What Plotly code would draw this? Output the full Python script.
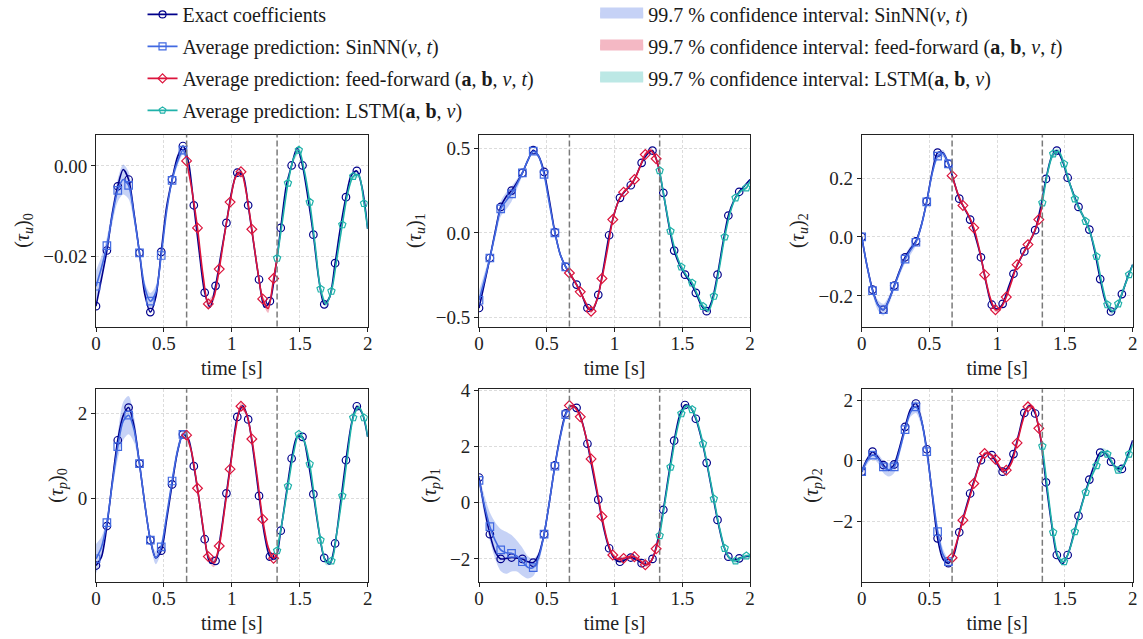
import plotly.graph_objects as go

# ---------------- data ----------------
T_EXACT = [0.00, 0.04, 0.08, 0.12, 0.16, 0.20, 0.24, 0.28, 0.32, 0.36, 0.40, 0.44, 0.48, 0.52, 0.56, 0.60,
           0.64, 0.68, 0.72, 0.76, 0.80, 0.84, 0.88, 0.92, 0.96, 1.00, 1.04, 1.08, 1.12, 1.16, 1.20, 1.24,
           1.28, 1.32, 1.36, 1.40, 1.44, 1.48, 1.52, 1.56, 1.60, 1.64, 1.68, 1.72, 1.76, 1.80, 1.84, 1.88,
           1.92, 1.96, 2.00]
T_SIN = [0.00, 0.04, 0.08, 0.12, 0.16, 0.20, 0.24, 0.28, 0.32, 0.36, 0.40, 0.44, 0.48, 0.52, 0.56, 0.60, 0.64, 0.667]
T_FF = [0.667, 0.707, 0.747, 0.787, 0.827, 0.867, 0.907, 0.947, 0.987, 1.027, 1.067, 1.107, 1.147, 1.187,
        1.227, 1.267, 1.307, 1.333]
T_LSTM = [1.333, 1.373, 1.413, 1.453, 1.493, 1.533, 1.573, 1.613, 1.653, 1.693, 1.733, 1.773, 1.813, 1.853,
          1.893, 1.933, 1.973, 2.000]
SEGMENT_BOUNDS = [0.667, 1.333]

# (tau_u)_0
EXACT_TU0 = [-0.0310, -0.0250, -0.0187, -0.0105, -0.0045, -0.0008, -0.0030, -0.0105, -0.0192, -0.0285, -0.0323,
             -0.0290, -0.0190, -0.0090, -0.0030, 0.0020, 0.0044, 0.0010, -0.0087, -0.0190, -0.0280, -0.0312,
             -0.0265, -0.0195, -0.0126, -0.0055, -0.0015, -0.0020, -0.0087, -0.0170, -0.0251, -0.0312, -0.0299,
             -0.0230, -0.0137, -0.0045, 0.0001, 0.0040, 0.0001, -0.0070, -0.0152, -0.0250, -0.0306, -0.0290,
             -0.0215, -0.0135, -0.0069, -0.0020, -0.0011, -0.0050, -0.0139]
SIN_TU0 = [-0.0266, -0.0225, -0.0176, -0.0110, -0.0054, -0.0030, -0.0043, -0.0110, -0.0192, -0.0270, -0.0299,
           -0.0280, -0.0198, -0.0100, -0.0032, 0.0010, 0.0035, 0.0015]
SIN_TU0_W = [0.0035, 0.0025, 0.0018, 0.0018, 0.0025, 0.0033, 0.0030, 0.0015, 0.0010, 0.0012, 0.0018, 0.0015,
             0.0010, 0.0008, 0.0008, 0.0010, 0.0010, 0.0008]
FF_TU0 = [0.0011, -0.0055, -0.0137, -0.0240, -0.0305, -0.0290, -0.0228, -0.0150, -0.0080, -0.0025, -0.0013,
          -0.0060, -0.0140, -0.0225, -0.0294, -0.0315, -0.0249, -0.0205]
FF_TU0_W = [0.0006, 0.0006, 0.0006, 0.0008, 0.0010, 0.0009, 0.0006, 0.0005, 0.0005, 0.0005, 0.0006, 0.0005,
            0.0005, 0.0006, 0.0008, 0.0010, 0.0007, 0.0006]
LSTM_TU0 = [-0.0204, -0.0120, -0.0038, 0.0015, 0.0035, -0.0010, -0.0080, -0.0175, -0.0272, -0.0305, -0.0277,
            -0.0205, -0.0130, -0.0060, -0.0023, -0.0020, -0.0083, -0.0139]
LSTM_TU0_W = [0.0005, 0.0005, 0.0006, 0.0007, 0.0008, 0.0006, 0.0005, 0.0005, 0.0006, 0.0007, 0.0006, 0.0005,
              0.0005, 0.0005, 0.0006, 0.0007, 0.0006, 0.0005]

# (tau_u)_1
EXACT_TU1 = [-0.446, -0.300, -0.149, 0.010, 0.154, 0.215, 0.251, 0.300, 0.356, 0.430, 0.491, 0.455, 0.362, 0.190,
             0.004, -0.130, -0.202, -0.255, -0.307, -0.370, -0.446, -0.455, -0.368, -0.200, -0.014, 0.120, 0.208,
             0.250, 0.283, 0.340, 0.416, 0.465, 0.489, 0.405, 0.238, 0.050, -0.105, -0.190, -0.248, -0.295, -0.356,
             -0.430, -0.465, -0.400, -0.248, -0.060, 0.103, 0.190, 0.244, 0.280, 0.317]
SIN_TU1 = [-0.400, -0.280, -0.149, 0.000, 0.143, 0.190, 0.232, 0.290, 0.356, 0.430, 0.485, 0.455, 0.347, 0.170,
           0.000, -0.130, -0.202, -0.235]
SIN_TU1_W = [0.060, 0.040, 0.020, 0.030, 0.045, 0.050, 0.045, 0.030, 0.015, 0.012, 0.012, 0.012, 0.012, 0.010,
             0.010, 0.010, 0.010, 0.010]
FF_TU1 = [-0.238, -0.290, -0.350, -0.415, -0.465, -0.405, -0.271, -0.100, 0.079, 0.185, 0.242, 0.275, 0.317,
          0.390, 0.465, 0.490, 0.440, 0.365]
FF_TU1_W = [0.010, 0.010, 0.010, 0.012, 0.014, 0.012, 0.010, 0.010, 0.010, 0.010, 0.010, 0.010, 0.010, 0.012,
            0.014, 0.014, 0.012, 0.010]
LSTM_TU1 = [0.370, 0.180, 0.010, -0.120, -0.202, -0.255, -0.297, -0.370, -0.436, -0.462, -0.376, -0.210, -0.024,
            0.120, 0.208, 0.250, 0.267, 0.310]
LSTM_TU1_W = [0.010, 0.010, 0.010, 0.010, 0.010, 0.010, 0.010, 0.012, 0.014, 0.014, 0.012, 0.010, 0.010, 0.010,
              0.010, 0.010, 0.010, 0.010]

# (tau_u)_2
EXACT_TU2 = [0.000, -0.100, -0.179, -0.230, -0.247, -0.215, -0.165, -0.115, -0.069, -0.040, -0.015, 0.040, 0.121,
             0.220, 0.286, 0.285, 0.248, 0.190, 0.130, 0.095, 0.059, 0.000, -0.069, -0.160, -0.230, -0.245, -0.227,
             -0.175, -0.125, -0.085, -0.049, -0.015, 0.023, 0.100, 0.197, 0.270, 0.293, 0.260, 0.201, 0.150, 0.102,
             0.065, 0.025, -0.050, -0.143, -0.220, -0.253, -0.240, -0.194, -0.140, -0.094]
SIN_TU2 = [0.000, -0.100, -0.182, -0.232, -0.247, -0.215, -0.168, -0.118, -0.075, -0.045, -0.018, 0.038, 0.119,
           0.215, 0.274, 0.283, 0.248, 0.215]
SIN_TU2_W = [0.008, 0.010, 0.012, 0.018, 0.020, 0.015, 0.012, 0.012, 0.014, 0.015, 0.012, 0.010, 0.008, 0.010,
             0.012, 0.012, 0.010, 0.008]
FF_TU2 = [0.208, 0.150, 0.107, 0.075, 0.031, -0.040, -0.128, -0.205, -0.247, -0.240, -0.204, -0.150, -0.094,
          -0.060, -0.026, 0.010, 0.059, 0.110]
FF_TU2_W = [0.006, 0.006, 0.006, 0.006, 0.006, 0.006, 0.006, 0.007, 0.008, 0.008, 0.007, 0.006, 0.006, 0.006,
            0.006, 0.006, 0.006, 0.006]
LSTM_TU2 = [0.116, 0.220, 0.282, 0.290, 0.248, 0.185, 0.129, 0.090, 0.053, 0.005, -0.066, -0.160, -0.230, -0.252,
            -0.227, -0.175, -0.128, -0.094]
LSTM_TU2_W = [0.006, 0.008, 0.012, 0.010, 0.008, 0.010, 0.012, 0.010, 0.008, 0.008, 0.008, 0.010, 0.012, 0.012,
              0.010, 0.010, 0.008, 0.008]

# (tau_p)_0
EXACT_TP0 = [-1.58, -1.38, -0.65, 0.40, 1.37, 1.95, 2.14, 1.70, 0.82, -0.15, -0.98, -1.40, -1.23, -0.50, 0.33,
             1.10, 1.51, 1.40, 0.76, -0.05, -0.96, -1.52, -1.47, -0.80, 0.12, 1.05, 1.92, 2.18, 1.86, 1.05, 0.06,
             -0.85, -1.37, -1.42, -0.76, 0.10, 0.94, 1.45, 1.45, 0.90, 0.10, -0.75, -1.40, -1.55, -1.06, -0.10,
             0.90, 1.75, 2.17, 2.00, 1.45]
SIN_TP0 = [-1.42, -1.15, -0.57, 0.35, 1.22, 1.82, 1.96, 1.62, 0.82, -0.15, -0.98, -1.40, -1.14, -0.40, 0.41,
           1.12, 1.51, 1.50]
SIN_TP0_W = [0.35, 0.25, 0.10, 0.15, 0.30, 0.45, 0.45, 0.30, 0.12, 0.10, 0.10, 0.15, 0.12, 0.08, 0.10, 0.12,
             0.08, 0.05]
FF_TP0 = [1.49, 1.05, 0.24, -0.65, -1.37, -1.52, -1.12, -0.25, 0.69, 1.60, 2.17, 2.00, 1.40, 0.50, -0.49,
          -1.15, -1.41, -1.30]
FF_TP0_W = [0.05, 0.05, 0.05, 0.06, 0.08, 0.10, 0.06, 0.05, 0.05, 0.06, 0.08, 0.06, 0.05, 0.05, 0.05, 0.06,
            0.06, 0.05]
LSTM_TP0 = [-1.23, -0.50, 0.29, 1.05, 1.51, 1.35, 0.81, -0.10, -0.98, -1.50, -1.47, -0.80, 0.06, 1.05, 1.90,
            2.15, 1.90, 1.45]
LSTM_TP0_W = [0.05, 0.05, 0.05, 0.05, 0.06, 0.05, 0.05, 0.05, 0.06, 0.07, 0.06, 0.05, 0.05, 0.05, 0.06, 0.07,
              0.06, 0.05]

# (tau_p)_1
EXACT_TP1 = [0.90, -0.20, -1.12, -1.75, -2.00, -1.98, -1.95, -1.97, -2.00, -2.10, -2.13, -1.85, -1.12, 0.05, 1.33,
             2.40, 3.18, 3.45, 3.38, 2.90, 2.10, 1.10, 0.11, -0.90, -1.62, -2.00, -2.10, -2.03, -1.95, -2.02, -2.15,
             -2.20, -2.00, -1.30, -0.25, 1.00, 2.21, 3.10, 3.48, 3.40, 2.99, 2.30, 1.42, 0.40, -0.61, -1.45, -1.92,
             -2.05, -1.98, -1.92, -1.89]
SIN_TP1 = [0.80, -0.10, -0.85, -1.35, -1.68, -1.78, -1.80, -1.90, -2.10, -2.30, -2.31, -1.95, -1.12, 0.05, 1.30,
           2.35, 3.14, 3.40]
SIN_TP1_W = [0.20, 0.35, 0.50, 0.65, 0.75, 0.75, 0.65, 0.55, 0.50, 0.40, 0.30, 0.20, 0.15, 0.12, 0.12, 0.12,
             0.10, 0.08]
FF_TP1 = [3.46, 3.40, 3.06, 2.40, 1.56, 0.55, -0.49, -1.35, -1.86, -2.02, -1.98, -1.92, -1.92, -2.05, -2.21,
          -2.10, -1.64, -1.15]
FF_TP1_W = [0.06, 0.06, 0.06, 0.06, 0.06, 0.06, 0.06, 0.06, 0.07, 0.07, 0.07, 0.07, 0.07, 0.07, 0.08, 0.07,
            0.06, 0.06]
LSTM_TP1 = [-1.17, 0.05, 1.27, 2.40, 3.17, 3.45, 3.32, 2.85, 2.10, 1.15, 0.14, -0.85, -1.62, -2.00, -2.07, -1.97,
            -1.89, -1.88]
LSTM_TP1_W = [0.06, 0.06, 0.06, 0.06, 0.07, 0.08, 0.07, 0.06, 0.06, 0.06, 0.06, 0.06, 0.06, 0.07, 0.08, 0.07,
              0.06, 0.06]

# (tau_p)_2
EXACT_TP2 = [-0.36, 0.05, 0.30, 0.12, -0.14, -0.32, -0.12, 0.45, 1.12, 1.70, 1.89, 1.35, 0.38, -1.10, -2.56,
             -3.25, -3.38, -3.10, -2.36, -1.70, -1.08, -0.50, 0.02, 0.25, 0.19, -0.12, -0.36, -0.20, 0.22, 0.90,
             1.58, 1.82, 1.56, 0.75, -0.71, -2.05, -3.11, -3.40, -3.11, -2.50, -1.82, -1.20, -0.62, -0.10, 0.27,
             0.25, -0.03, -0.22, -0.27, 0.15, 0.68]
SIN_TP2 = [-0.36, 0.00, 0.19, 0.08, -0.20, -0.30, -0.20, 0.35, 1.03, 1.60, 1.78, 1.35, 0.30, -1.05, -2.34,
           -3.10, -3.33, -3.25]
SIN_TP2_W = [0.15, 0.12, 0.12, 0.15, 0.20, 0.22, 0.20, 0.15, 0.12, 0.15, 0.20, 0.20, 0.15, 0.18, 0.25, 0.20,
             0.10, 0.08]
FF_TP2 = [-3.20, -2.60, -1.96, -1.35, -0.75, -0.15, 0.24, 0.22, 0.05, -0.25, -0.31, -0.05, 0.59, 1.30, 1.78,
          1.75, 1.07, 0.45]
FF_TP2_W = [0.06, 0.06, 0.06, 0.06, 0.06, 0.06, 0.06, 0.06, 0.06, 0.06, 0.06, 0.06, 0.06, 0.07, 0.08, 0.07,
            0.06, 0.06]
LSTM_TP2 = [0.48, -1.00, -2.36, -3.20, -3.33, -2.95, -2.34, -1.65, -1.04, -0.55, -0.16, 0.30, 0.22, -0.10, -0.31,
            -0.15, 0.22, 0.55]
LSTM_TP2_W = [0.06, 0.06, 0.06, 0.07, 0.08, 0.07, 0.06, 0.06, 0.06, 0.06, 0.08, 0.12, 0.12, 0.10, 0.08, 0.07,
              0.07, 0.06]

Y_TITLES = ["(<i>τ<sub>u</sub></i>)<sub>0</sub>", "(<i>τ<sub>u</sub></i>)<sub>1</sub>",
            "(<i>τ<sub>u</sub></i>)<sub>2</sub>", "(<i>τ<sub>p</sub></i>)<sub>0</sub>",
            "(<i>τ<sub>p</sub></i>)<sub>1</sub>", "(<i>τ<sub>p</sub></i>)<sub>2</sub>"]
X_TITLE = "time [s]"
LEGEND_LINES = ["Exact coefficients",
                "Average prediction: SinNN(<i>ν</i>, <i>t</i>)",
                "Average prediction: feed-forward (<b>a</b>, <b>b</b>, <i>ν</i>, <i>t</i>)",
                "Average prediction: LSTM(<b>a</b>, <b>b</b>, <i>ν</i>)"]
LEGEND_BANDS = ["99.7 % confidence interval: SinNN(<i>ν</i>, <i>t</i>)",
                "99.7 % confidence interval: feed-forward (<b>a</b>, <b>b</b>, <i>ν</i>, <i>t</i>)",
                "99.7 % confidence interval: LSTM(<b>a</b>, <b>b</b>, <i>ν</i>)"]

# ---------------- styling ----------------
FONT = "Liberation Serif"
NAVY = "#00008B"
BLUE = "#4169E1"
RED = "#DC143C"
TEAL = "#20B2AA"
BAND_BLUE = "rgba(65,105,225,0.30)"
BAND_RED = "rgba(220,20,60,0.30)"
BAND_TEAL = "rgba(32,178,170,0.30)"
PATCH_BLUE = "#C6D2F6"
PATCH_RED = "#F4B8C4"
PATCH_TEAL = "#BCE8E5"

PANELS = [
    dict(exact=EXACT_TU0, sin=(SIN_TU0, SIN_TU0_W), ff=(FF_TU0, FF_TU0_W), lstm=(LSTM_TU0, LSTM_TU0_W),
         yr=[-0.0355, 0.0069], dt=0.02, fmt=".2f"),
    dict(exact=EXACT_TU1, sin=(SIN_TU1, SIN_TU1_W), ff=(FF_TU1, FF_TU1_W), lstm=(LSTM_TU1, LSTM_TU1_W),
         yr=[-0.556, 0.583], dt=0.5, fmt=".1f"),
    dict(exact=EXACT_TU2, sin=(SIN_TU2, SIN_TU2_W), ff=(FF_TU2, FF_TU2_W), lstm=(LSTM_TU2, LSTM_TU2_W),
         yr=[-0.304, 0.347], dt=0.2, fmt=".1f"),
    dict(exact=EXACT_TP0, sin=(SIN_TP0, SIN_TP0_W), ff=(FF_TP0, FF_TP0_W), lstm=(LSTM_TP0, LSTM_TP0_W),
         yr=[-1.96, 2.57], dt=2, fmt="d"),
    dict(exact=EXACT_TP1, sin=(SIN_TP1, SIN_TP1_W), ff=(FF_TP1, FF_TP1_W), lstm=(LSTM_TP1, LSTM_TP1_W),
         yr=[-2.81, 4.04], dt=2, fmt="d"),
    dict(exact=EXACT_TP2, sin=(SIN_TP2, SIN_TP2_W), ff=(FF_TP2, FF_TP2_W), lstm=(LSTM_TP2, LSTM_TP2_W),
         yr=[-3.99, 2.36], dt=2, fmt="d"),
]
X_DOMAINS = [[0.0840, 0.3217], [0.4191, 0.6562], [0.7539, 0.9910]]
Y_DOMAINS = [[0.4890, 0.7892], [0.0897, 0.3908]]

fig = go.Figure()

# legend-only entries
LEG_STYLE = [(NAVY, "circle-open"), (BLUE, "square-open"), (RED, "diamond-open"), (TEAL, "pentagon-open")]
for name, (c, sym) in zip(LEGEND_LINES, LEG_STYLE):
    fig.add_trace(go.Scatter(x=[None], y=[None], mode="lines+markers", name=name, legend="legend",
                             legendgroup=name, line=dict(color=c, width=1.6),
                             marker=dict(symbol=sym, size=7, color=c, line=dict(width=1.2, color=c))))
for name, c in zip(LEGEND_BANDS, [PATCH_BLUE, PATCH_RED, PATCH_TEAL]):
    fig.add_trace(go.Scatter(x=[None], y=[None], mode="lines", name=name, legend="legend2",
                             legendgroup=name, fill="toself", fillcolor=c, line=dict(color=c, width=13)))

SPL = dict(shape="spline", smoothing=0.8)
for i, p in enumerate(PANELS):
    xa = "x" if i == 0 else f"x{i + 1}"
    ya = "y" if i == 0 else f"y{i + 1}"
    common = dict(xaxis=xa, yaxis=ya, showlegend=False, hoverinfo="skip")
    # confidence bands
    for t, (m, w), bc in [(T_SIN, p["sin"], BAND_BLUE), (T_FF, p["ff"], BAND_RED), (T_LSTM, p["lstm"], BAND_TEAL)]:
        lo = [a - b for a, b in zip(m, w)]
        hi = [a + b for a, b in zip(m, w)]
        fig.add_trace(go.Scatter(x=t, y=lo, mode="lines", line=dict(width=0, **SPL), **common))
        fig.add_trace(go.Scatter(x=t, y=hi, mode="lines", line=dict(width=0, **SPL), fill="tonexty",
                                 fillcolor=bc, **common))
    # exact
    fig.add_trace(go.Scatter(x=T_EXACT, y=p["exact"], mode="lines", line=dict(color=NAVY, width=1.6, **SPL),
                             **common))
    fig.add_trace(go.Scatter(x=T_EXACT[0:49:2], y=p["exact"][0:49:2], mode="markers",
                             marker=dict(symbol="circle-open", size=7.5, color=NAVY, line=dict(width=1.2, color=NAVY)),
                             **common))
    # predictions
    for t, (m, w), c, sym in [(T_SIN, p["sin"], BLUE, "square-open"), (T_FF, p["ff"], RED, "diamond-open"),
                              (T_LSTM, p["lstm"], TEAL, "pentagon-open")]:
        fig.add_trace(go.Scatter(x=t, y=m, mode="lines", line=dict(color=c, width=1.6, **SPL), **common))
        fig.add_trace(go.Scatter(x=t[0:17:2], y=m[0:17:2], mode="markers",
                                 marker=dict(symbol=sym, size=7.5, color=c, line=dict(width=1.2, color=c)),
                                 **common))
    # segment boundaries
    for b in SEGMENT_BOUNDS:
        fig.add_shape(type="line", xref=xa, yref=f"{ya} domain", x0=b, x1=b, y0=0, y1=1,
                      line=dict(color="#7a7a7a", width=1.5, dash="6px,3px"))

AX_COMMON = dict(showline=True, linecolor="#222222", linewidth=1, mirror=True, ticks="outside", ticklen=4,
                 tickcolor="#222222", tickfont=dict(family=FONT, size=19, color="#222222"), automargin=False,
                 showgrid=True, gridcolor="#dcdcdc", gridwidth=0.8, griddash="3px,2px", zeroline=False)
layout_axes = {}
for i, p in enumerate(PANELS):
    r, c = divmod(i, 3)
    kx = "xaxis" if i == 0 else f"xaxis{i + 1}"
    ky = "yaxis" if i == 0 else f"yaxis{i + 1}"
    ya = "y" if i == 0 else f"y{i + 1}"
    xa = "x" if i == 0 else f"x{i + 1}"
    layout_axes[kx] = dict(domain=X_DOMAINS[c], anchor=ya, range=[0, 2], dtick=0.5, tick0=0,
                           ticklabelstandoff=-4,
                           title=dict(text=X_TITLE, font=dict(family=FONT, size=20, color="#222222"), standoff=7),
                           **AX_COMMON)
    layout_axes[ky] = dict(domain=Y_DOMAINS[r], anchor=xa, range=p["yr"], dtick=p["dt"], tick0=0,
                           tickformat=p["fmt"],
                           title=dict(text=Y_TITLES[i], font=dict(family=FONT, size=20, color="#222222"),
                                      standoff=8),
                           **AX_COMMON)

fig.update_layout(
    width=1143, height=639, margin=dict(l=0, r=0, t=0, b=0, autoexpand=False),
    paper_bgcolor="white", plot_bgcolor="white", hovermode=False,
    font=dict(family=FONT, size=20, color="#1a1a1a"),
    legend=dict(x=0.1247, y=1.008, xanchor="left", yanchor="top", bgcolor="rgba(0,0,0,0)",
                font=dict(family=FONT, size=20, color="#1a1a1a"), traceorder="grouped", tracegroupgap=3,
                itemwidth=30),
    legend2=dict(x=0.5207, y=1.008, xanchor="left", yanchor="top", bgcolor="rgba(0,0,0,0)",
                 font=dict(family=FONT, size=20, color="#1a1a1a"), traceorder="grouped", tracegroupgap=3,
                 itemwidth=43),
    **layout_axes,
)

fig.write_html("out.html")
